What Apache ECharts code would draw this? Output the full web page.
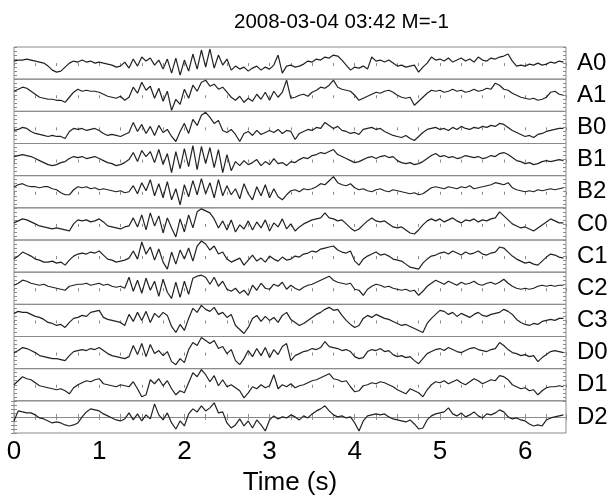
<!DOCTYPE html>
<html>
<head>
<meta charset="utf-8">
<script src="https://cdn.jsdelivr.net/npm/echarts@6/dist/echarts.min.js"></script>
<style>
  html, body { margin: 0; padding: 0; background: #fff; }
  #chart { width: 613px; height: 501px; }
</style>
</head>
<body>
<div id="chart"></div>
<script>
// 台站通道名
var traceNames = ['A0', 'A1', 'B0', 'B1', 'B2', 'C0', 'C1', 'C2', 'C3', 'D0', 'D1', 'D2'];
var titleText = '2008-03-04 03:42 M=-1';
var xName = 'Time (s)';
var dt = 0.05; // 采样间隔 (s)
var tMax = 6.48;

// 各通道波形 (每 0.05 s 一个点, 从图上估读)
var A0 = [2,3,3,4, 3,2,1,0, -3,-7,-9, -8,-4,0, 2,1,3,1,2,0,1,0,-1, -2,-4,-3,
  1,-5,4,-3,6,2,5,-2,3,-6,4,-10,5,-12, 3,-8,9,-6,13,-4,14,-5,8, -2,4,-7,-3,-6,-4,-8,-5,
  -3,-7,-4,-6,-2,8, -10,-3,-2,-4,-3, -1,2,1,4,3,6,5,8,7, 3,-2,-7,-4,-5, -3,-6,6,2,3,
  1,3,0,-3,-2, -4,-3,-2,-9, -4,0,6,3, 4,2,5,1,3,5,2,4,1,6,3,2,5,4,6,7, 9,2,-3,-2,
  -3,-1,-2,0,-2,-1,1,0,2,1];
var A1 = [4,6,8,7, 4,1,-2,-3, -4,-4,-5,-5,-7, -2,3,6, 4,5,4,4,3, 1,-1,-2,-3,-1, -5,-2,
  8,2,13,5,9,-3,7,-6,4,-15,-4,-9, 6,-3,10,4,13, 15,9,11,6,8, 3,-2,-5,-1,-7,-3,
  -6,1,-4,3,-5,4,-2,3, 15,-3,-2, 0,1,-1, 3,5,8,7,10, 15, 8,6,5,4, 0,-5,-3, -1,1,3,2,4,
  5,3,0,-2, -3,-2, -10,-6,-2, 2,5,4, 5,3,4,6,4,5,3,4,6,4,5,7,6, 12,10, 6,5,2,0,-2,
  -3,-4,-3,-5,-4,-2, 3,4,1,0];
var B0 = [-3,-2,0,-1, -4,-6,-7,-8, -9,-8,-9,-9,-11, -4,-1, -2,-1,-3,-2,-1,-3,
  -6,-8,-7,-8,-9,-7,-5, 5,-4,3,-6,1,-8,2,-5,-2,-9,-14,-4, 4,-6,8,2,12, 15,10, 4,7,-3,
  -5,-2,-7,-14,-6,-4, -8,-3,-7,-5, -3,-5,-2,-6,-3,-4, -12, -6,-4,-2,-3,0,-1, 5,
  2,-1,1,-3, -4,-6,-5,-7, -2,-1,0,-2,-1, -4,-6,-8,-9, -10,-8,-11,-13, -9,-5,-2,
  -1,0,-2,-1,-3,0,-2,1,-1,-2,0,-1,1,0,2,1, 4,3, 0,-3,-5,-7,-9,-8, -10,-7,-6,
  -4,-3,-2,-1,-1];
var B1 = [3,4,5,4, 3,1,-1,-3, -5,-6,-5,-3,-2, 1,3,2,3,1,2,3,1, -1,-3,-4,-6,-5, -3,0,
  7,-2,9,3,8,-3,10,-5,6,-13,8,-9, 11,-7,14,-10,13,-4,12,-8,10,-13,5,-11,
  -2,-6,-1,-5,-3,0,-6,-2,-5,1,-4,-3,-6,-2, -3,0,2,1,4,5,7,6,8,10, 5,3,1,-1,-3,-2,
  0,2,3,1,3,4,2,3, -1,-3,-4,-3,-5,-4, -2,1,4,6, 3,4,2,3,1,2,4,3,2,3,1,2,4,3, 6,7,5,
  2,-1,-2,-4,-3,-5,-4, -2,-1,-2,-1,0,-1];
var B2 = [5,7,8,6, 5,5,4,5, 5,3,2,-1,-3, -3,2,5, 4,5,3,4,2,3,2, 1,0,1,-1,0,
  6,-2,9,1,12,-4,8,-6,10,-8,3,-13, 7,-5,11,-3,13,-2,9,-6,12,-4,6,-3,
  3,-7,8,-2,-8,5,-4,7,-6,3,-5,-8, -3,1,2,0,3,2, 3,5,8,7,11,15, 9,7,6,8,
  4,2,3,1,0,2,3,1,0,2,1,0, -1,-2,-1,-3,-2, 1,4,5, 4,3,5,4,3,5,4,6,3,4,5,6, 7,9,8,7,9,
  4,2,1,0,1,0,2, 1,2,3,2,3,4];
var C0 = [1,3,5,4, 2,0,-2,-3, -4,-5,-4,-5,-6, -7,0,4, 3,4,2,3,5, 2,-2,-3,-4,-5,-3,-2,
  6,-3,9,-6,11,-2,8,-9,6,-4,-13,5, -8,9,-4,12,15,13, 11,5,-4,3, -6,4,-8,-1,-5,3,
  -6,2,-4,4,-7,1,-3,5,-5,0, -7, -3,0,2,4,5,6, 11, 6,5,3,4, 0,-4,-7,-5, -1,3,6,3,2,3,
  0,-3,-4, -3,-6,-9,-10, -6,-1,3, 5,3,5,2,4,6,3,1,4,3,5,2,4,3,5,6, 12,8, 4,0,-2,-4,-3,-5,
  -7,-4,-1, 2,5,3,1,1];
var C1 = [-3,0,4,2, 0,-3,-4,-6, -6,-5,-7,-6,-9, -4,0,2, 3,2,4,3,5, 1,-3,-4,-6,-5,-4,-2,
  5,-3,14,2,9,-4,7,-6,-13,4,-8,6, -3,8,-5,10,15,12, 6,10,2,4, -3,-6,-4,
  -2,-9,-4,1,-5,-2,-6,0,-3,-5,-1,-4, -3,0,-1,2,3,5,4,7,8,9, 10, 6,4,3,5, -5,-9,
  -3,0,2,4,1,2, 0,-3,-4, -5,-8,-11,-12,-13, -7,-3,0,1, 3,4,2,5,3,1,4,2,3,5,2,1,3,4, 9,8,
  4,0,-3,-5,-7,-6,-8, -9,-5,-1, 2,1,-1,-2];
var C2 = [3,5,8,7, 5,4,3,4, 2,1,0,-1,-2, 2,3,4, 4,5,3,4,5,3,4, 2,1,2,0,
  11,-3,8,-5,10,-2,7,-8,9,-4,-10,6,-9, 7,-6,10,12,13,11, 4,11,2,7, -1,-3,0,-5,-2,-7,
  3,-2,5,0,-1,4,2,6,-1,3, 0,-2, 1,3,4,6,8,10,12, 8,6,5,4,5, -1,-2,-7,
  -1,2,4,3,1,2,0,-1,-2, -1,-3,-2,-7, -3,2,5,8, 6,4,7,5,3,6,4,5,7,4,3,5,6,4,6, 9,
  5,2,0,-1,0,-1, 0,2,3,2,3,2,3,3];
var C3 = [7,9,8,8, 6,4,3,1, -2,-3,-5,-4,-7, -2,2,3,5,4, 8,9,10, 3,1, 0,-1,-2,-5,
  6,-1,8,0,9,-2,7, 3,8,5, -6,-12,-4,-10, 2,12,8,15,11, 9,13,6,8,3,6, -5,-9,-13,-7,
  2,5,-1,4,0,3,-2,5, 8, 1,-2,-5,-3,0, 3,6,8,11,13, 10,11,5, 0,-4,-7,-5, 2,5,3,6,4,
  2,1,-1,-3,-5, -4,-6,-8,-10, -12, -3,2,6, 10,9, 6,8,4,7,5,3,6,8,5,4,6,7,8, 11, 9,6,
  1,-2,-4,-5,-3,-4, -1,0,1,0,2,2];
var D0 = [0,2,5,4, 2,0,-3,-4, -5,-6,-6,-7,-8, -3,1,2, 3,2,4,3,5, 2,-1,-3,-4,-5,-6,-4,
  7,-2,9,-4,8,-1, 2,-3,1, -9,-12,-6,-10, 3,10,7,15,12, 9,12,4,6,-1,3, -8,-12,-6,
  2,-4,4,-3,5,-5,3,-2,6, 9, -8,-3, -1,1,2,4,3,5, 11, 6,5,4,2,3,1, -4,-6,-5,
  1,3,2,4,1,2, -2,-4,-3, -5,-4,-8,-11, -6,-1,1,3, 4,2,5,3,1,0,2,4,5,3,2,1,3,4, 10,7,
  3,0,-1,-3,-2,-4,-3, -9, -5,-2,1,2,1,0];
var D1 = [0,4,8,6, 5,2,-1,-2, -3,-4,-5,-4,-6, -9,-3, 0,2,4,3,5,6, 1,0,-1,-2,0,-1,-2,
  3,-4,-12,-10, 5,1,6,-1,4, -4,-10,-6,-8, 2,12,8,15,10, 3,9,-1,5,-2,0, -3,-6,-13,-8,
  -2,-4,0,-3,-1, 10,-4, 0,-2,1,-3,-1,0, 2,4,5,7,9,11, 6,5,3,4, -2,-7,-6,
  -1,0,2,1,3,2, 0,-2, -5,-7,-9, -4,-6,-8,-12, -5,0,3, 2,4,1,3,5,2,0,3,6,4,1,3,5,4, 9,8,5,
  0,-2,-4,-3,-6,-5, -10, -6,-3,-2,-2,-1,-2];
var D2 = [-4,6,5,4, 4,2,-1,-2, -4,-6,-5,-6,-8, -9,-8,-6, 0,5,8,7, 6, 3,1,-1,-3,-4,-2,
  4,-3,3,-4,2,-2, 13, 2,-3,4, -6,-12,-4,-9, 3,8,5,11,6, 9,14, 4,5, -6,-11,-8,
  -2,-9,-4,-11,-3,-8, -14, -3,1,-2,0,-1,2,0,-3,1,-1, 3,6,8,11, 6,2,0,1,-1,0, -6,-14,
  -4,1,2,3,2,3, 0,-2,-3,-4, -5,-3,-7,-12,-11, -3,1,3, 4,5,9, 3,1,4,0,2,5,1,-1,3,2, 4,7,5,
  0,-2,-1,-3, -4,-7,-9,-8,-9, -3,-1,0,1,2];

var traceData = [A0, A1, B0, B1, B2, C0, C1, C2, C3, D0, D1, D2];

(function () {
    var chart = echarts.init(document.getElementById('chart'));
    var n = traceNames.length;
    var plotTop = 47, plotBottom = 433;
    var panelH = (plotBottom - plotTop) / n;
    var grids = [], xAxes = [], yAxes = [], series = [];
    var lineColor = '#8a8a8a';
    var font = 'Liberation Sans';

    for (var k = 0; k < n; k++) {
        grids.push({
            left: 14, right: 47, top: plotTop + k * panelH, height: panelH,
            show: true, borderColor: lineColor, borderWidth: 1
        });
        // 上边框的刻度
        xAxes.push({
            gridIndex: k, type: 'value', min: 0, max: tMax, interval: 0.25, position: 'top',
            axisLine: { show: false },
            axisTick: { inside: true, length: 3, lineStyle: { color: lineColor } },
            axisLabel: { show: false }, splitLine: { show: false }
        });
        var xIdx = xAxes.length - 1;
        if (k === n - 1) {
            // 最下面的时间轴
            xAxes.push({
                gridIndex: k, type: 'value', min: 0, max: tMax, interval: 0.25, position: 'bottom',
                axisLine: { show: true, lineStyle: { color: lineColor } },
                axisTick: { inside: true, length: 3, lineStyle: { color: lineColor } },
                axisLabel: {
                    color: '#000', fontSize: 26, fontFamily: font, margin: 6,
                    formatter: function (v) { return Math.abs(v - Math.round(v)) < 1e-6 ? String(Math.round(v)) : ''; }
                },
                splitLine: { show: false },
                name: xName, nameLocation: 'middle', nameGap: 37,
                nameTextStyle: { color: '#000', fontSize: 26, fontFamily: font }
            });
        }
        yAxes.push({
            gridIndex: k, type: 'value', min: -16, max: 16, interval: 4, position: 'left',
            axisLine: { show: false },
            axisTick: { inside: true, length: 3, lineStyle: { color: lineColor } },
            axisLabel: { show: false }, splitLine: { show: false }
        });
        var yIdx = yAxes.length - 1;
        yAxes.push({
            gridIndex: k, type: 'value', min: -16, max: 16, interval: 4, position: 'right',
            axisLine: { show: false },
            axisTick: { inside: true, length: 3, lineStyle: { color: lineColor } },
            axisLabel: { show: false }, splitLine: { show: false },
            name: traceNames[k], nameLocation: 'middle', nameRotate: 0, nameGap: 11,
            nameTextStyle: { color: '#000', fontSize: 24, fontFamily: font, align: 'left', verticalAlign: 'middle' }
        });

        var pts = [];
        for (var i = 0; i < traceData[k].length; i++) {
            pts.push([+(i * dt).toFixed(2), traceData[k][i]]);
        }
        series.push({
            name: traceNames[k], type: 'line', xAxisIndex: xIdx, yAxisIndex: yIdx,
            data: pts, showSymbol: false, symbol: 'none', silent: true,
            lineStyle: { color: '#222', width: 1.2 }
        });
    }

    var option = {
        animation: false,
        backgroundColor: '#fff',
        title: {
            text: titleText, left: 229, top: 7,
            textStyle: { color: '#000', fontSize: 20.5, fontWeight: 'normal', fontFamily: font }
        },
        grid: grids,
        xAxis: xAxes,
        yAxis: yAxes,
        series: series
    };
    chart.setOption(option);
    window.onresize = function () { chart.resize(); };
})();
</script>
</body>
</html>
